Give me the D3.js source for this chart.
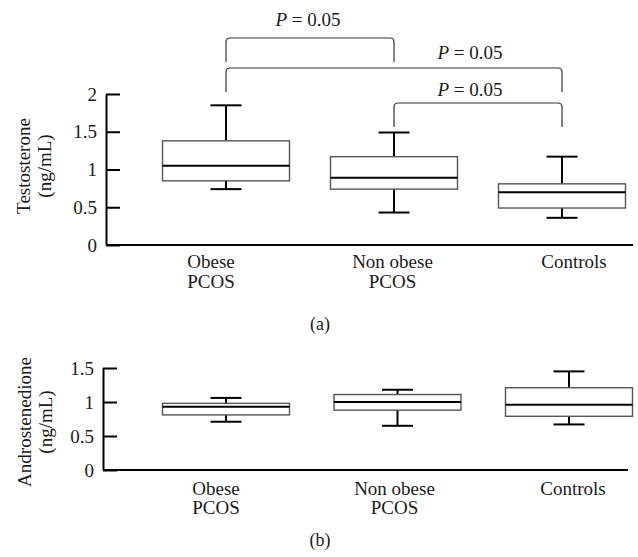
<!DOCTYPE html>
<html>
<head>
<meta charset="utf-8">
<script src="https://cdn.jsdelivr.net/npm/d3@7"></script>
<style>
  body { margin: 0; background: #fff; }
  svg text { font-family: "Liberation Serif", "DejaVu Serif", serif !important; fill: #1a1a1a; }
</style>
</head>
<body>
<svg id="chart" width="638" height="557"></svg>
<script>
// groups
const groups = ["Obese PCOS", "Non obese PCOS", "Controls"];
const groupLines = [["Obese", "PCOS"], ["Non obese", "PCOS"], ["Controls"]];

// testosterone (ng/mL): min, q1, median, q3, max
const testoMin = [0.74, 0.43, 0.36];
const testoQ1 = [0.85, 0.74, 0.49];
const testoMed = [1.05, 0.89, 0.70];
const testoQ3 = [1.38, 1.17, 0.81];
const testoMax = [1.85, 1.49, 1.17];
const testoTicks = [0, 0.5, 1, 1.5, 2];

// androstenedione (ng/mL)
const andMin = [0.71, 0.65, 0.67];
const andQ1 = [0.81, 0.88, 0.79];
const andMed = [0.93, 1.00, 0.96];
const andQ3 = [0.98, 1.11, 1.21];
const andMax = [1.06, 1.18, 1.45];
const andTicks = [0, 0.5, 1, 1.5];

// significance brackets for panel (a)
const compFrom = ["Obese PCOS", "Obese PCOS", "Non obese PCOS"];
const compTo = ["Non obese PCOS", "Controls", "Controls"];
const compP = ["0.05", "0.05", "0.05"];

const FONT = "'Liberation Serif', 'DejaVu Serif', serif";
const svg = d3.select("#chart").attr("font-family", FONT);

function drawPanel(opt) {
  const g = svg.append("g");
  const y = d3.scaleLinear().domain(opt.domain).range(opt.yRange);
  const x = d3.scalePoint().domain(groups).range(opt.xRange);
  const xl = d3.scalePoint().domain(groups).range(opt.labelRange);

  const rows = groups.map((k, i) => ({
    key: k, lines: groupLines[i],
    min: opt.min[i], q1: opt.q1[i], med: opt.med[i], q3: opt.q3[i], max: opt.max[i]
  }));

  // y axis
  const yAxis = d3.axisLeft(y)
    .tickValues(opt.ticks)
    .tickFormat(d => String(d))
    .tickSizeInner(-14)
    .tickSizeOuter(0)
    .tickPadding(9);

  const ay = g.append("g")
    .attr("transform", `translate(${opt.axisX},0)`)
    .call(yAxis)
    .attr("font-family", FONT)
    .attr("font-size", 19);
  ay.select(".domain").attr("stroke", "#000").attr("stroke-width", 2);
  ay.selectAll(".tick line").attr("stroke", "#000").attr("stroke-width", 2);
  ay.selectAll(".tick text").attr("fill", "#1a1a1a");

  // x axis baseline
  g.append("line")
    .attr("x1", opt.axisX).attr("x2", opt.axisEnd)
    .attr("y1", y(0)).attr("y2", y(0))
    .attr("stroke", "#000").attr("stroke-width", 2);

  // y title
  const tx = g.append("text")
    .attr("transform", `translate(${opt.titleX},${opt.titleY}) rotate(-90)`)
    .attr("text-anchor", "middle")
    .attr("font-size", 19);
  tx.append("tspan").attr("x", 0).attr("y", 0).text(opt.title);
  tx.append("tspan").attr("x", 0).attr("y", 0).attr("dy", 21).text("(ng/mL)");

  // boxes
  const boxW = 127, capW = 31;
  const b = g.selectAll(".box").data(rows).enter().append("g").attr("class", "box");

  b.append("line")
    .attr("x1", d => x(d.key)).attr("x2", d => x(d.key))
    .attr("y1", d => y(d.max)).attr("y2", d => y(d.q3))
    .attr("stroke", "#000").attr("stroke-width", 2);
  b.append("line")
    .attr("x1", d => x(d.key)).attr("x2", d => x(d.key))
    .attr("y1", d => y(d.q1)).attr("y2", d => y(d.min))
    .attr("stroke", "#000").attr("stroke-width", 2);
  b.append("line")
    .attr("x1", d => x(d.key) - capW / 2).attr("x2", d => x(d.key) + capW / 2)
    .attr("y1", d => y(d.max)).attr("y2", d => y(d.max))
    .attr("stroke", "#000").attr("stroke-width", 2);
  b.append("line")
    .attr("x1", d => x(d.key) - capW / 2).attr("x2", d => x(d.key) + capW / 2)
    .attr("y1", d => y(d.min)).attr("y2", d => y(d.min))
    .attr("stroke", "#000").attr("stroke-width", 2);
  b.append("rect")
    .attr("x", d => x(d.key) - boxW / 2).attr("width", boxW)
    .attr("y", d => y(d.q3)).attr("height", d => y(d.q1) - y(d.q3))
    .attr("fill", "#fff").attr("stroke", "#555").attr("stroke-width", 1.4);
  b.append("line")
    .attr("x1", d => x(d.key) - boxW / 2).attr("x2", d => x(d.key) + boxW / 2)
    .attr("y1", d => y(d.med)).attr("y2", d => y(d.med))
    .attr("stroke", "#000").attr("stroke-width", 2);

  // category labels
  const lab = g.selectAll(".cat").data(rows).enter().append("text")
    .attr("class", "cat")
    .attr("text-anchor", "middle")
    .attr("font-size", 19);
  lab.each(function (d) {
    d.lines.forEach((s, i) => {
      d3.select(this).append("tspan")
        .attr("x", xl(d.key))
        .attr("y", opt.labelY + i * opt.lineGap)
        .text(s);
    });
  });

  // panel letter
  g.append("text")
    .attr("x", 320).attr("y", opt.letterY)
    .attr("text-anchor", "middle")
    .attr("font-size", 18)
    .text(opt.letter);

  return { x, y, g };
}

const pa = drawPanel({
  domain: [0, 2], yRange: [245, 94], xRange: [226, 562], labelRange: [211, 574],
  ticks: testoTicks, min: testoMin, q1: testoQ1, med: testoMed, q3: testoQ3, max: testoMax,
  axisX: 106, axisEnd: 633, title: "Testosterone", titleX: 30, titleY: 166,
  labelY: 268, lineGap: 20, letter: "(a)", letterY: 330
});

drawPanel({
  domain: [0, 1.5], yRange: [470, 368], xRange: [226, 569], labelRange: [216, 573],
  ticks: andTicks, min: andMin, q1: andQ1, med: andMed, q3: andQ3, max: andMax,
  axisX: 103, axisEnd: 628, title: "Androstenedione", titleX: 31, titleY: 422,
  labelY: 495, lineGap: 19, letter: "(b)", letterY: 546
});

// brackets on panel (a)
const bracketTop = [38, 68, 103];
const legLen = 24;
const labelX = [308, 470, 470];
const labelGap = [12, 9, 7];
const r = 4;

const br = svg.append("g");
compFrom.forEach((f, i) => {
  const x1 = pa.x(f), x2 = pa.x(compTo[i]), yt = bracketTop[i];
  const p = d3.path();
  p.moveTo(x1, yt + legLen);
  p.lineTo(x1, yt + r);
  p.quadraticCurveTo(x1, yt, x1 + r, yt);
  p.lineTo(x2 - r, yt);
  p.quadraticCurveTo(x2, yt, x2, yt + r);
  p.lineTo(x2, yt + legLen);
  br.append("path")
    .attr("d", p.toString())
    .attr("fill", "none")
    .attr("stroke", "#333")
    .attr("stroke-width", 1.2);

  const t = br.append("text")
    .attr("x", labelX[i]).attr("y", yt - labelGap[i])
    .attr("text-anchor", "middle")
    .attr("font-size", 19);
  t.append("tspan").attr("font-style", "italic").text("P");
  t.append("tspan").text(" = " + compP[i]);
});
</script>
</body>
</html>
